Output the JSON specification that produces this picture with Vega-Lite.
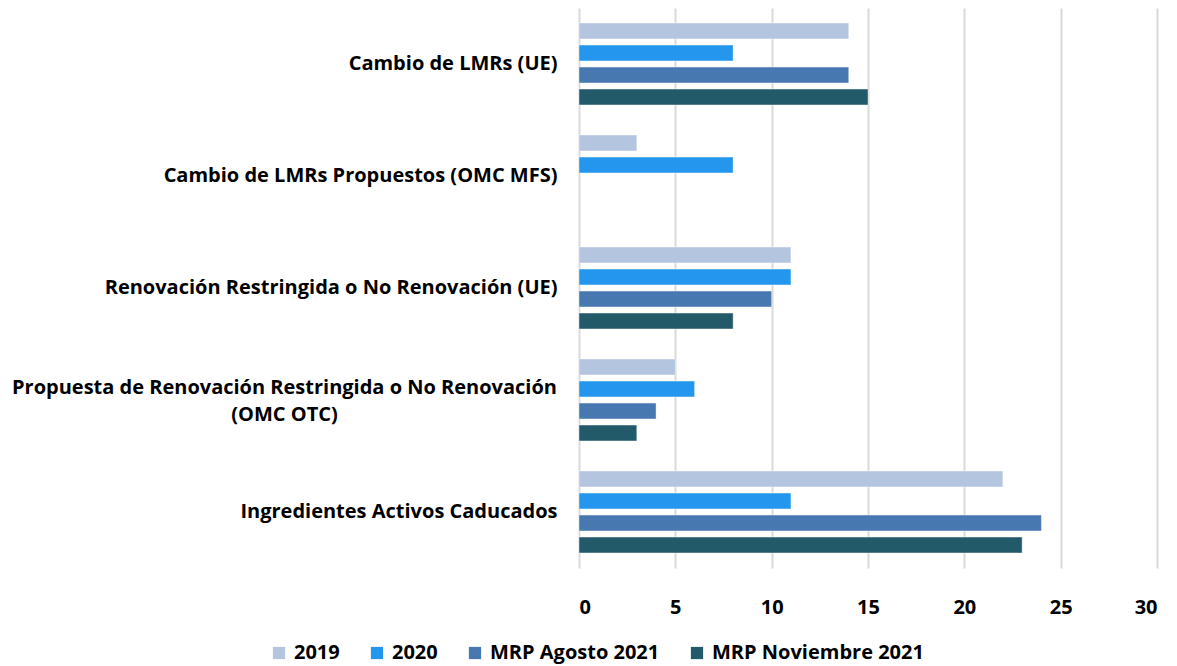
{
  "$schema": "https://vega.github.io/schema/vega-lite/v6.json",
  "width": 578,
  "height": 560,
  "autosize": {"type": "none"},
  "padding": {"left": 579, "top": 8, "right": 20, "bottom": 98},
  "background": "white",
  "data": {
    "values": [
      {"categoria": "Cambio de LMRs (UE)", "serie": "2019", "valor": 14},
      {"categoria": "Cambio de LMRs (UE)", "serie": "2020", "valor": 8},
      {"categoria": "Cambio de LMRs (UE)", "serie": "MRP Agosto 2021", "valor": 14},
      {"categoria": "Cambio de LMRs (UE)", "serie": "MRP Noviembre 2021", "valor": 15},
      {"categoria": "Cambio de LMRs Propuestos (OMC MFS)", "serie": "2019", "valor": 3},
      {"categoria": "Cambio de LMRs Propuestos (OMC MFS)", "serie": "2020", "valor": 8},
      {"categoria": "Renovación Restringida o No Renovación (UE)", "serie": "2019", "valor": 11},
      {"categoria": "Renovación Restringida o No Renovación (UE)", "serie": "2020", "valor": 11},
      {"categoria": "Renovación Restringida o No Renovación (UE)", "serie": "MRP Agosto 2021", "valor": 10},
      {"categoria": "Renovación Restringida o No Renovación (UE)", "serie": "MRP Noviembre 2021", "valor": 8},
      {"categoria": "Propuesta de Renovación Restringida o No Renovación (OMC OTC)", "serie": "2019", "valor": 5},
      {"categoria": "Propuesta de Renovación Restringida o No Renovación (OMC OTC)", "serie": "2020", "valor": 6},
      {"categoria": "Propuesta de Renovación Restringida o No Renovación (OMC OTC)", "serie": "MRP Agosto 2021", "valor": 4},
      {"categoria": "Propuesta de Renovación Restringida o No Renovación (OMC OTC)", "serie": "MRP Noviembre 2021", "valor": 3},
      {"categoria": "Ingredientes Activos Caducados", "serie": "2019", "valor": 22},
      {"categoria": "Ingredientes Activos Caducados", "serie": "2020", "valor": 11},
      {"categoria": "Ingredientes Activos Caducados", "serie": "MRP Agosto 2021", "valor": 24},
      {"categoria": "Ingredientes Activos Caducados", "serie": "MRP Noviembre 2021", "valor": 23}
    ]
  },
  "mark": {"type": "bar", "stroke": "white", "strokeOpacity": 0.4, "strokeWidth": 1},
  "encoding": {
    "y": {
      "field": "categoria",
      "type": "nominal",
      "sort": null,
      "scale": {"paddingInner": 0.2, "paddingOuter": 0.1},
      "axis": {
        "title": null,
        "domain": false,
        "ticks": false,
        "labelPadding": {"condition": {"test": "indexof(datum.value, 'Propuesta') == 0", "value": 295}, "value": 22},
        "labelAlign": {"condition": {"test": "indexof(datum.value, 'Propuesta') == 0", "value": "center"}, "value": "right"},
        "labelFont": "Open Sans",
        "labelFontWeight": "bold",
        "labelFontSize": 20,
        "labelColor": "#000000",
        "labelLimit": 600,
        "labelLineHeight": 27,
        "labelOffset": {"condition": {"test": "indexof(datum.value, 'Propuesta') == 0", "value": -12}, "value": 0},
        "labelExpr": "datum.value == 'Propuesta de Renovación Restringida o No Renovación (OMC OTC)' ? ['Propuesta de Renovación Restringida o No Renovación', '(OMC OTC)'] : datum.value"
      }
    },
    "yOffset": {
      "field": "serie",
      "type": "nominal",
      "sort": ["2019", "2020", "MRP Agosto 2021", "MRP Noviembre 2021"],
      "scale": {"paddingInner": 0.28, "paddingOuter": 0.175}
    },
    "x": {
      "field": "valor",
      "type": "quantitative",
      "scale": {"domain": [0, 30], "nice": false},
      "axis": {
        "title": null,
        "values": [0, 5, 10, 15, 20, 25, 30],
        "domain": false,
        "ticks": false,
        "grid": true,
        "gridColor": "#D9D9D9",
        "gridWidth": 2,
        "labelPadding": 29,
        "labelFont": "Open Sans",
        "labelFontWeight": "bold",
        "labelFontSize": 20,
        "labelColor": "#000000"
      }
    },
    "color": {
      "field": "serie",
      "type": "nominal",
      "sort": ["2019", "2020", "MRP Agosto 2021", "MRP Noviembre 2021"],
      "scale": {
        "domain": ["2019", "2020", "MRP Agosto 2021", "MRP Noviembre 2021"],
        "range": ["#B4C5E0", "#2596EE", "#4878B0", "#225A69"]
      },
      "legend": {
        "title": null,
        "orient": "none",
        "direction": "horizontal",
        "legendX": -310,
        "legendY": 635,
        "symbolType": "square",
        "symbolSize": 150,
        "symbolStrokeWidth": 0,
        "columnPadding": 27,
        "labelOffset": 5,
        "labelLimit": 400,
        "labelFont": "Open Sans",
        "labelFontWeight": "bold",
        "labelFontSize": 20,
        "labelColor": "#000000"
      }
    }
  },
  "config": {"view": {"stroke": null}}
}
